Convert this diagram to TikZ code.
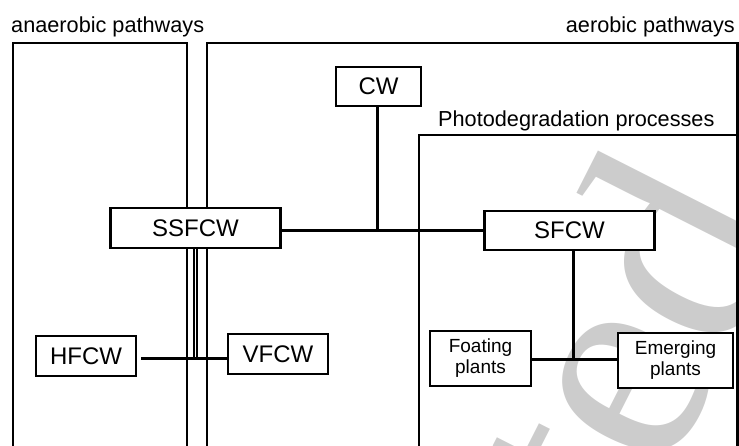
\documentclass[tikz,border=0pt]{standalone}
\usepackage{fontspec}
\setmainfont{Liberation Sans}
\newfontfamily\wmfont{Liberation Serif}
\begin{document}
\begin{tikzpicture}[x=1pt,y=-1pt,
  panel/.style={line width=2.2pt},
  box/.style={draw, line width=2.4pt, fill=white, inner sep=0pt, font=\fontsize{24}{24}\selectfont},
  smallbox/.style={box, font=\fontsize{19}{21}\selectfont, align=center},
  conn/.style={line width=3pt},
  twin/.style={line width=2pt},
  lab/.style={inner sep=0pt, font=\fontsize{21.7}{24}\selectfont},
  wm/.style={text=black!20, inner sep=0pt, font=\wmfont\fontsize{300}{300}\selectfont, rotate=63.1}]
\useasboundingbox (0,0) rectangle (739,446);
% watermark
\begin{scope}
  \clip (0,0) rectangle (739,446);
  \node[wm, anchor=base east] (wmk) at (793,227) {ted};
\end{scope}
% panels
\draw[panel] (13,446) -- (13,43) -- (187,43) -- (187,446);
\draw[panel] (207,446) -- (207,43) -- (737.5,43) -- (737.5,446);
\draw[panel] (419,446) -- (419,135) -- (737.5,135);
% labels
\node[lab, anchor=base west] (anlab) at (11,33) {anaerobic pathways};
\node[lab, anchor=base east] (aelab) at (735,33) {aerobic pathways};
\node[lab, anchor=base west] (phlab) at (438,127) {Photodegradation processes};
% boxes
\node[box, minimum width=170, minimum height=40] (ss) at (195.5,228) {SSFCW};
\node[box, minimum width=170, minimum height=39] (sf) at (569.5,230.5) {SFCW};
\node[box, minimum width=85, minimum height=39] (cw) at (378.5,86.5) {CW};
\node[box, minimum width=100, minimum height=40] (hf) at (86,356) {HFCW};
\node[box, minimum width=100, minimum height=40] (vf) at (278,354) {VFCW};
\node[smallbox, minimum width=101, minimum height=55] (fp) at (480.5,358.5) {Foating\\plants};
\node[smallbox, minimum width=115, minimum height=55] (em) at (675.5,360.5) {Emerging\\plants};
% connectors
\coordinate (j1) at (377,231);
\coordinate (j2) at (573,359);
\coordinate (j3) at (195,358);
\draw[conn] (ss.east |- j1) -- (sf.west |- j1);
\draw[conn] (j1 |- cw.south) -- (j1);
\draw[conn] (j2 |- sf.south) -- (j2);
\draw[conn] (fp.east |- j2) -- (em.west |- j2);
\draw[conn, shorten <=4pt] (hf.east |- j3) -- (vf.west |- j3);
\draw[twin] ([xshift=-1.6pt]ss.south) -- ([xshift=-1.6pt]ss.south |- j3);
\draw[twin] ([xshift=1.6pt]ss.south) -- ([xshift=1.6pt]ss.south |- j3);
\end{tikzpicture}
\end{document}
